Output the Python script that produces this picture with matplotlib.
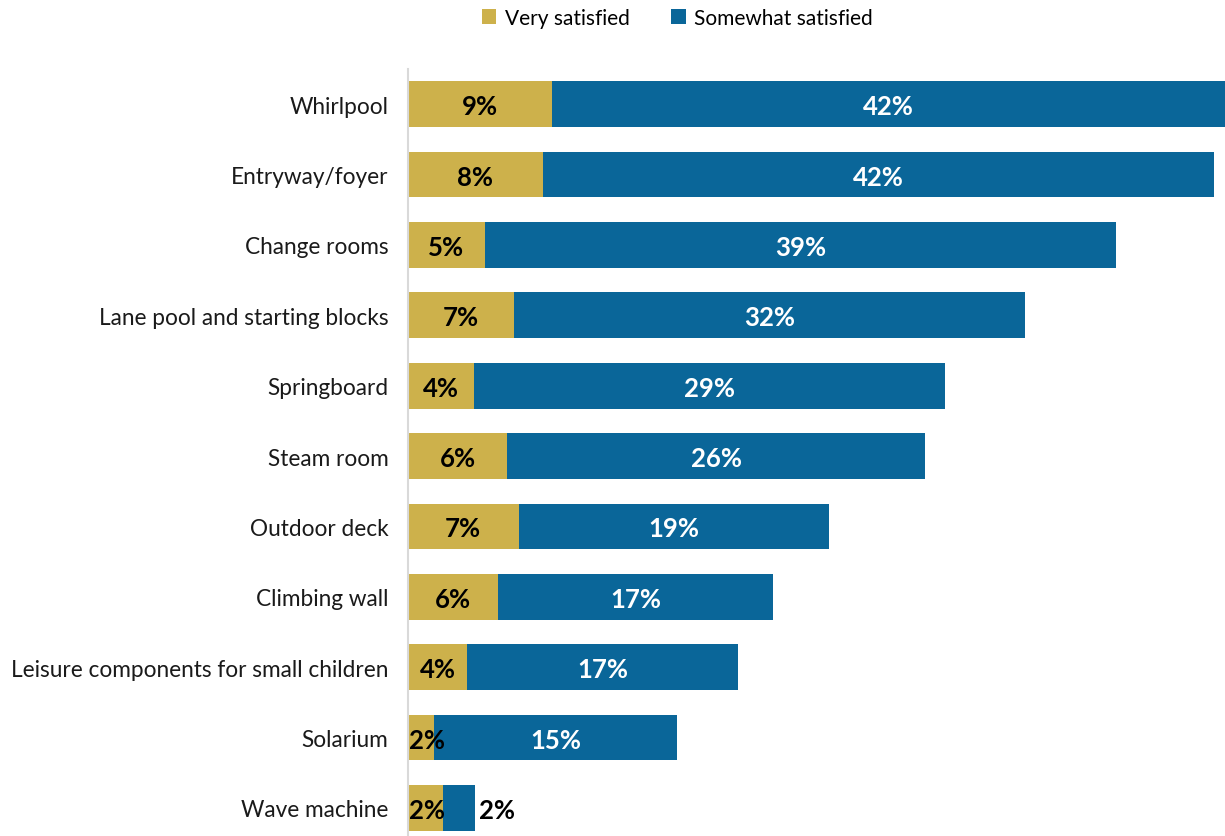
import matplotlib
matplotlib.use("Agg")
import matplotlib.pyplot as plt
import numpy as np

plt.rcParams['font.family'] = ['Lato', 'DejaVu Sans']

# 设施名称及两类满意度（%）
facilities = ["Whirlpool", "Entryway/foyer", "Change rooms", "Lane pool and starting blocks",
              "Springboard", "Steam room", "Outdoor deck", "Climbing wall",
              "Leisure components for small children", "Solarium", "Wave machine"]
very_satisfied = [9.0, 8.4, 4.8, 6.6, 4.1, 6.2, 6.9, 5.6, 3.7, 1.6, 2.2]
somewhat_satisfied = [42.0, 41.9, 39.4, 31.9, 29.4, 26.1, 19.4, 17.2, 16.9, 15.2, 2.0]

gold = '#CDB14B'
blue = '#0A6699'

fig = plt.figure(figsize=(12.25, 8.37), dpi=100)
ax = fig.add_axes([408 / 1225, 0, 1 - 408 / 1225, 1 - 70 / 837])

y = np.arange(len(facilities))
ax.barh(y, very_satisfied, height=0.65, color=gold, label='Very satisfied')
ax.barh(y, somewhat_satisfied, left=very_satisfied, height=0.65, color=blue,
        label='Somewhat satisfied')

# 数据标签
for i, (v, s) in enumerate(zip(very_satisfied, somewhat_satisfied)):
    ax.text(max(v / 2, 1.2), i + 0.03, f'{round(v):d}%', ha='center', va='center',
            fontsize=18.5, fontweight='bold', color='black')
    if s > 4:
        ax.text(v + s / 2, i + 0.03, f'{round(s):d}%', ha='center', va='center',
                fontsize=18.5, fontweight='bold', color='white')
    else:
        ax.text(v + s + 0.25, i + 0.03, f'{round(s):d}%', ha='left', va='center',
                fontsize=18.5, fontweight='bold', color='black')

ax.set_xlim(0, 51)
ax.set_ylim(10.4, -0.5)
ax.set_yticks(y)
ax.set_yticklabels(facilities, fontsize=16.3, color='#1a1a1a')
ax.tick_params(axis='y', length=0, pad=14)
ax.set_xticks([])
for side in ['top', 'right', 'bottom']:
    ax.spines[side].set_visible(False)
ax.spines['left'].set_color('#d9d9d9')
ax.spines['left'].set_linewidth(1.5)

fig.legend(loc='upper center', bbox_to_anchor=(0.553, 1.012), ncol=2, frameon=False,
           fontsize=15, handlelength=0.7, handleheight=0.7, handletextpad=0.4,
           columnspacing=2.0)

fig.savefig('out.png', dpi=100)
